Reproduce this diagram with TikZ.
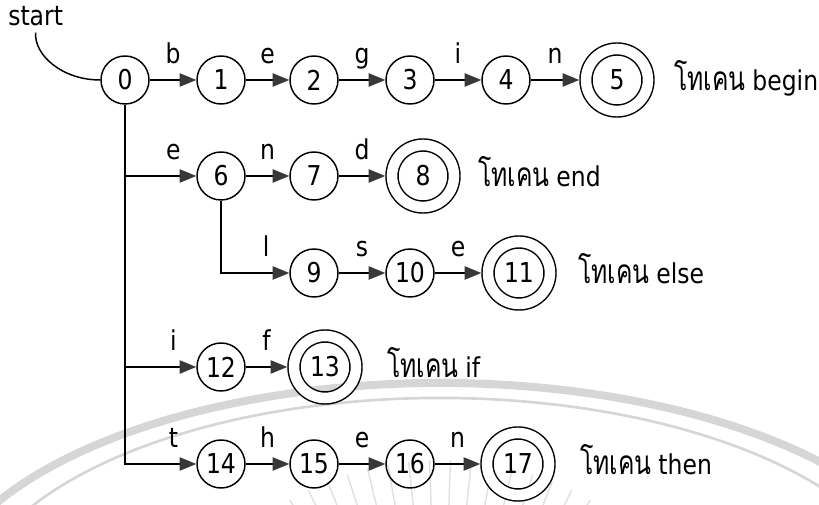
\documentclass[tikz,border=0pt]{standalone}
\usepackage{fontspec}
\setmainfont{DejaVu Sans}[FakeStretch=0.86]
\newfontfamily\thaifont[Script=Thai,Scale=1.22,FakeStretch=0.74]{Loma}
\usetikzlibrary{arrows.meta}

\definecolor{tipgray}{HTML}{383838}
\definecolor{markgray}{HTML}{D6D6D6}

% a token name: Thai word followed by the keyword
\newcommand\thaitok[1]{{\thaifont โทเคน}\hspace{0.25em}#1}

\begin{document}
\begin{tikzpicture}[x=0.75pt,y=-0.75pt,
  font=\fontsize{20.5}{23}\selectfont,
  state/.style={circle,draw,line width=1.1pt,minimum size=36pt,inner sep=0pt},
  accept/.style={circle,draw,line width=1.1pt,minimum size=46.5pt,inner sep=0pt,
    double,double distance=7.9pt,outer sep=5.05pt},
  edge/.style={line width=1.1pt,
    -{Triangle[length=12.5pt,width=10pt,color=tipgray]}},
  lbl/.style={midway,anchor=base,yshift=12.5pt,inner sep=0pt},
  tok/.style={anchor=base west,inner sep=0pt}]

\useasboundingbox (0,0) rectangle (819,505);

% faint seal in the background
\begin{scope}
  \clip (0,0) rectangle (819,505);
  \draw[markgray,line width=6pt] (440,620) ++(200:510 and 237)
    arc[start angle=200,end angle=340,x radius=510,y radius=237];
  \draw[markgray,line width=2pt] (440,620) ++(200:475 and 222)
    arc[start angle=200,end angle=340,x radius=475,y radius=222];
  \foreach \a in {56,60,...,124}
    \draw[markgray!80,line width=1pt] (440,760) ++({255*cos(\a)},{-255*sin(\a)})
      -- ++({45*cos(\a)},{-45*sin(\a)});
\end{scope}

% states
\node[state]  (n0)  at (125,80)  {0};
\node[state]  (n1)  at (221,80)  {1};
\node[state]  (n2)  at (314,80)  {2};
\node[state]  (n3)  at (410,80)  {3};
\node[state]  (n4)  at (506,80)  {4};
\node[accept] (n5)  at (617,80)  {5};
\node[state]  (n6)  at (221,176) {6};
\node[state]  (n7)  at (314,176) {7};
\node[accept] (n8)  at (423,176) {8};
\node[state]  (n9)  at (314,273) {9};
\node[state]  (n10) at (410,273) {10};
\node[accept] (n11) at (519,273) {11};
\node[state]  (n12) at (221,367) {12};
\node[accept] (n13) at (325,367) {13};
\node[state]  (n14) at (221,464) {14};
\node[state]  (n15) at (314,464) {15};
\node[state]  (n16) at (410,464) {16};
\node[accept] (n17) at (518,464) {17};

% start marker
\node[anchor=base west,inner sep=4.5pt] (start) at (2,26) {start};
\draw[line width=1.1pt] (start.south) .. controls (34,55) and (62,80) .. (n0.west);

% begin
\draw[edge] (n0) -- (n1) node[lbl] {b};
\draw[edge] (n1) -- (n2) node[lbl] {e};
\draw[edge] (n2) -- (n3) node[lbl] {g};
\draw[edge] (n3) -- (n4) node[lbl] {i};
\draw[edge] (n4) -- (n5) node[lbl] {n};

% trunk and its branches
\draw[edge] (n0) |- (n14) node[lbl,pos=0.84] {t};
\draw[edge] (n0 |- n6) -- (n6) node[lbl,pos=0.68] {e};
\draw[edge] (n0 |- n12) -- (n12) node[lbl,pos=0.68] {i};

% end / else
\draw[edge] (n6) -- (n7) node[lbl] {n};
\draw[edge] (n7) -- (n8) node[lbl] {d};
\draw[edge] (n6) |- (n9) node[lbl,pos=0.83] {l};
\draw[edge] (n9) -- (n10) node[lbl] {s};
\draw[edge] (n10) -- (n11) node[lbl] {e};

% if
\draw[edge] (n12) -- (n13) node[lbl] {f};

% then
\draw[edge] (n14) -- (n15) node[lbl] {h};
\draw[edge] (n15) -- (n16) node[lbl] {e};
\draw[edge] (n16) -- (n17) node[lbl] {n};

% token names
\node[tok] (k5)  at (674,91)  {\thaitok{begin}};
\node[tok] (k8)  at (478,187) {\thaitok{end}};
\node[tok] (k11) at (578,284) {\thaitok{else}};
\node[tok] (k13) at (387,378) {\thaitok{if}};
\node[tok] (k17) at (580,475) {\thaitok{then}};
\end{tikzpicture}
\end{document}
